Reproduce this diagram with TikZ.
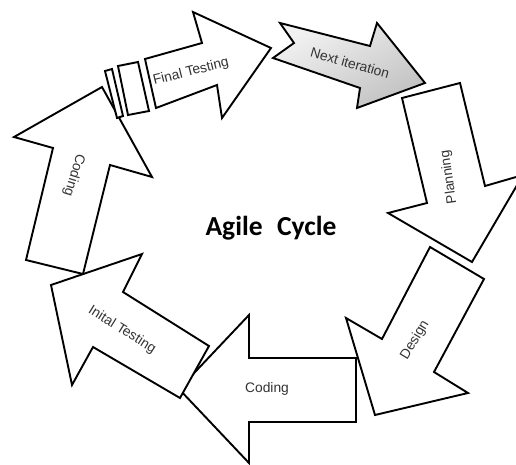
\documentclass[tikz,border=0pt]{standalone}
\usepackage{fontspec}
\setmainfont{Liberation Sans}
\newfontfamily\titlefont{Carlito}
\usepackage{tikz}
% outlines of the stages, in pixel units
\def\codingupshape{(102,87) -- (14,137) -- (53,148) -- (26,260) -- (83,274) -- (110,165) -- (152,177) -- cycle}
\def\finaltestshape{(145,59) -- (202,43) -- (193,12) -- (271,48) -- (222,118) -- (217,85) -- (156,108) -- cycle}
\def\wideboxshape{(118,66) -- (138,62) -- (149,111) -- (128,115) -- cycle}
\def\thinboxshape{(105,71) -- (112,69) -- (123,116) -- (117,118) -- cycle}
\def\nextitershape{(280,23) -- (370,46) -- (377,23) -- (425,83) -- (357,108) -- (360,88) -- (273,58) -- (294,43) -- cycle}
\def\planningshape{(402,98) -- (460,83) -- (485,186) -- (523,175) -- (472,262) -- (388,213) -- (427,203) -- cycle}
\def\designshape{(430,247) -- (484,279) -- (434,372) -- (468,393) -- (375,415) -- (346,318) -- (382,339) -- cycle}
\def\codingleftshape{(356,358) -- (356,422) -- (249,422) -- (249,463) -- (179,389) -- (249,315) -- (249,358) -- cycle}
\def\initaltestshape{(51,285) -- (142,254) -- (123,292) -- (209,346) -- (180,398) -- (93,347) -- (72,385) -- cycle}

\tikzset{
  stage/.style={draw=black, fill=white, line width=1.9pt, line join=miter},
  stagelabel/.style={text=black!80, font=\fontsize{13.8}{16}\selectfont, inner sep=0pt},
}

\begin{document}
\begin{tikzpicture}[x=1pt,y=-1pt]
			\useasboundingbox (0,0) rectangle (516,465);
			\fill[white] (0,0) rectangle (516,465);
			% the stages
			\draw[stage] \codingupshape;
			\draw[stage] \thinboxshape;
			\draw[stage] \wideboxshape;
			\draw[stage] \finaltestshape;
			\draw[stage, fill=none, top color=black!5, bottom color=black!24, shading angle=30] \nextitershape;
			\draw[stage] \planningshape;
			\draw[stage] \designshape;
			\draw[stage] \codingleftshape;
			\draw[stage] \initaltestshape;
			% labels
			\node[stagelabel, rotate=14] (finaltest) at (191,72) {Final Testing};
			\node[stagelabel, rotate=-16] (nextiter) at (350,63) {Next iteration};
			\node[stagelabel, rotate=98] (planning) at (449,177) {Planning};
			\node[stagelabel, rotate=59] (design) at (415,340) {Design};
			\node[stagelabel] (codingleft) at (267,389) {Coding};
			\node[stagelabel, rotate=-32] (initaltest) at (122,330) {Inital Testing};
			\node[stagelabel, rotate=-107] (codingup) at (74,175) {Coding};
			\node[anchor=base, inner sep=0pt, font=\titlefont\bfseries\fontsize{27.5}{30}\selectfont] (title) at (271,235) {Agile\hspace{0.3em} Cycle};
		\end{tikzpicture}
\end{document}
